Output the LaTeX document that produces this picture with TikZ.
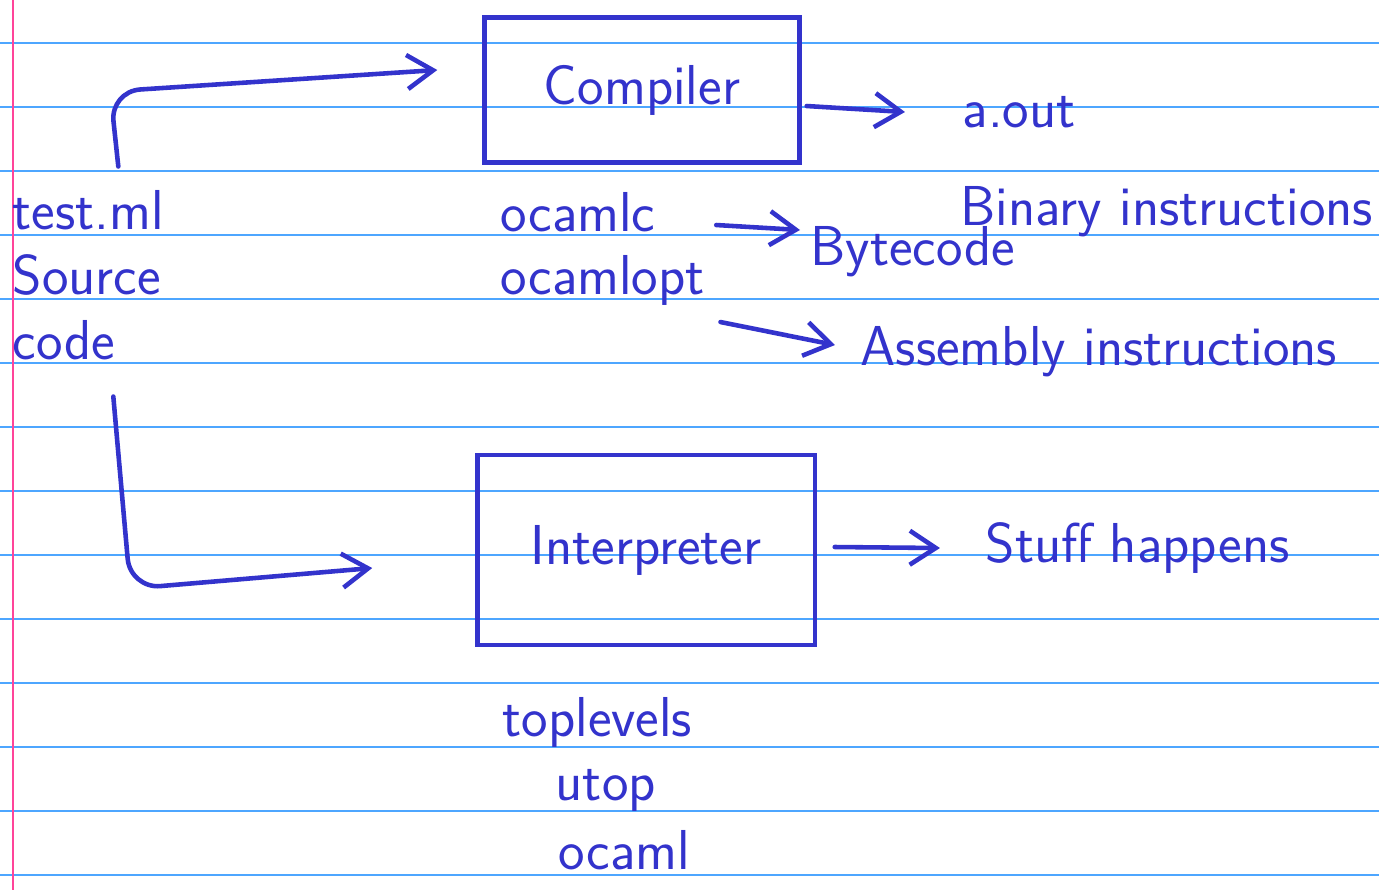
\documentclass[tikz,border=0pt]{standalone}
\usetikzlibrary{arrows.meta}
\definecolor{ink}{RGB}{51,51,204}
\definecolor{paperline}{RGB}{77,166,255}
\definecolor{marginline}{RGB}{255,68,153}

\begin{document}
\begin{tikzpicture}[x=0.01cm, y=-0.01cm,
    pen/.style={ink, line width=1.3pt, line cap=round, line join=round},
    tip/.style={pen, -{Straight Barb[length=2.6mm,width=3.4mm]}},
    word/.style={text=ink, inner sep=0pt, font=\sffamily\fontsize{16}{18.5}\selectfont},
    box/.style={word, draw=ink, line width=1.2pt}]

        \useasboundingbox (0,0) rectangle (1379,890);
        \fill[white] (0,0) rectangle (1379,890);

        % paper lines
        \foreach \y in {43,107,...,875}
            \draw[paperline, line width=0.6pt] (0,\y) -- (1379,\y);
        \draw[marginline, line width=0.7pt] (13,0) -- (13,890);

        % source file
        \node[word, anchor=west, align=left] (src) at (12,275) {test.ml\\Source\\code};

        % boxes
        \node[box, minimum width=3.15cm, minimum height=1.45cm] (comp) at (642,90) {Compiler};
        \node[box, minimum width=3.37cm, minimum height=1.9cm] (interp) at (646,550) {Interpreter};

        % compiler side
        \node[word, anchor=west] (aout) at (962,112) {a.out};
        \node[word, anchor=west] (bin) at (960,212) {Binary instructions};
        \node[word, anchor=west] (ocamlc) at (500,212) {ocamlc};
        \node[word, anchor=west] (ocamlopt) at (500,280) {ocamlopt};
        \node[word, anchor=west] (byte) at (810,252) {Bytecode};
        \node[word, anchor=west] (asm) at (860,352) {Assembly instructions};

        % interpreter side
        \node[word, anchor=west] (stuff) at (985,548) {Stuff happens};
        \node[word, anchor=west] (top) at (502,722) {toplevels};
        \node[word, anchor=west] (utop) at (555,790) {utop};
        \node[word, anchor=west] (ocaml) at (558,850) {ocaml};

        % arrows
        \draw[tip, rounded corners=0.3cm] ([xshift=0.3cm,yshift=0.23cm]src.north)
            -- ([xshift=0.22cm,yshift=0.98cm]src.north)
            -- ([xshift=-0.45cm,yshift=0.2cm]comp.west);
        \draw[tip, rounded corners=0.3cm] ([xshift=0.25cm,yshift=-0.36cm]src.south)
            -- ([xshift=0.42cm,yshift=-2.28cm]src.south)
            -- ([xshift=-1.03cm,yshift=-0.18cm]interp.west);
        \draw[tip] ([xshift=0.05cm,yshift=-0.16cm]comp.east) -- ([xshift=-0.57cm]aout.west);
        \draw[tip] ([xshift=0.6cm,yshift=-0.13cm]ocamlc.east) -- ([xshift=-0.1cm,yshift=0.22cm]byte.west);
        \draw[tip] ([xshift=0.15cm,yshift=-0.42cm]ocamlopt.east) -- ([xshift=-0.25cm,yshift=0.07cm]asm.west);
        \draw[tip] ([xshift=0.18cm,yshift=0.03cm]interp.east) -- ([xshift=-0.45cm]stuff.west);

    \end{tikzpicture}
\end{document}
